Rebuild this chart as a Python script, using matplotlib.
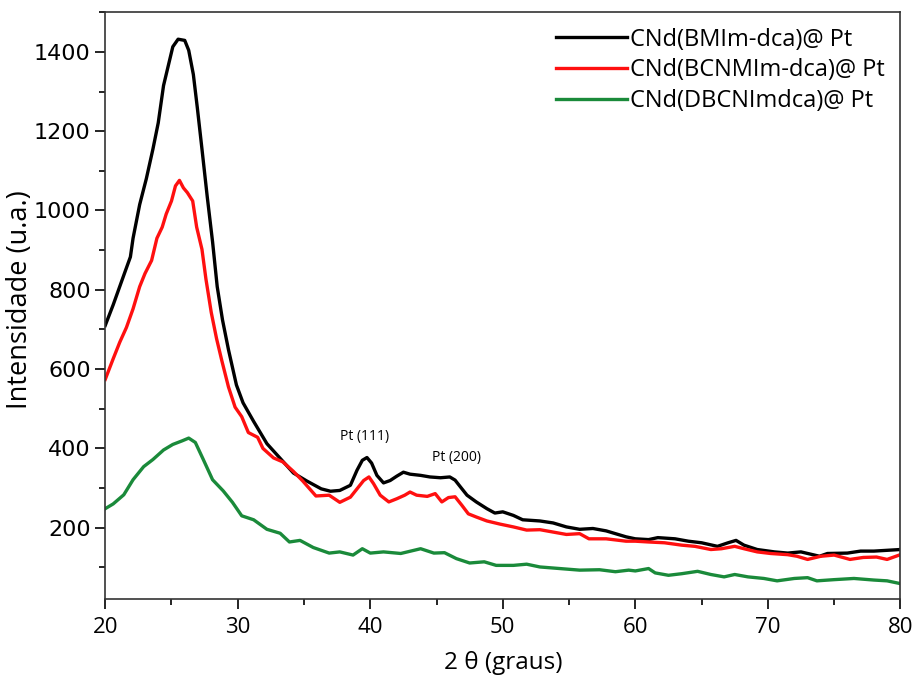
import matplotlib.pyplot as plt
from matplotlib.ticker import MultipleLocator

plt.rcParams['font.family'] = ['Open Sans', 'DejaVu Sans']

# 2theta / intensity
x_bmim = [20.0, 20.6, 21.5, 21.9, 22.1, 22.6, 23.1, 23.6, 24.0, 24.4, 24.8, 25.1,
          25.5, 26.0, 26.3, 26.65, 26.95, 27.3, 27.7, 28.1, 28.45, 28.85, 29.3, 29.9,
          30.4, 31.2, 32.2, 33.2, 34.2, 35.2, 36.3, 37.0, 37.7, 38.5, 39.0, 39.4,
          39.75, 40.1, 40.5, 41.0, 41.5, 42.0, 42.5, 43.0, 43.8, 44.5, 45.3, 46.0,
          46.4, 46.8, 47.3, 48.0, 48.8, 49.4, 50.0, 50.8, 51.5, 52.8, 53.8, 54.8,
          55.8, 56.8, 57.8, 58.5, 59.3, 60.0, 61.0, 61.7, 63.0, 64.0, 65.0, 66.2,
          67.0, 67.6, 68.2, 69.2, 70.5, 71.5, 72.5, 73.9, 74.5, 76.0, 77.0, 78.0,
          79.0, 80.0]
y_bmim = [710, 762, 846, 883, 930, 1015, 1080, 1155, 1221, 1315, 1371, 1413,
          1432, 1429, 1404, 1343, 1259, 1155, 1034, 921, 808, 724, 649, 560,
          515, 468, 412, 375, 338, 318, 298, 292, 294, 307, 345, 370,
          377, 363, 332, 313, 319, 330, 340, 335, 332, 328, 326, 328,
          320, 303, 282, 265, 248, 237, 240, 231, 220, 217, 212, 202,
          196, 198, 192, 185, 177, 172, 170, 175, 172, 166, 162, 153,
          162, 168, 156, 145, 139, 136, 139, 128, 135, 136, 141, 141,
          143, 145]

x_bcnmim = [20.0, 20.6, 21.1, 21.6, 22.1, 22.6, 23.0, 23.5, 23.9, 24.3, 24.6, 25.0,
            25.3, 25.6, 25.9, 26.2, 26.6, 26.9, 27.3, 27.6, 28.0, 28.4, 28.8, 29.3,
            29.8, 30.3, 30.8, 31.5, 31.9, 32.7, 33.4, 34.2, 34.9, 35.9, 36.9, 37.7,
            38.5, 39.0, 39.5, 39.9, 40.25, 40.75, 41.4, 42.0, 42.6, 43.0, 43.5, 44.3,
            44.9, 45.4, 45.9, 46.4, 46.9, 47.4, 48.0, 48.8, 49.8, 50.8, 51.8, 52.8,
            53.8, 54.8, 55.8, 56.5, 57.8, 59.3, 60.0, 61.0, 62.2, 63.5, 64.5, 65.7,
            66.5, 67.5, 68.2, 69.2, 70.2, 71.5, 72.2, 73.0, 74.0, 75.0, 76.2, 77.2,
            78.2, 79.0, 80.0]
y_bcnmim = [574, 626, 668, 705, 752, 808, 841, 874, 930, 958, 991, 1024,
            1062, 1076, 1057, 1045, 1024, 958, 902, 827, 743, 677, 621, 555,
            504, 480, 440, 428, 400, 376, 366, 342, 318, 280, 282, 264,
            277, 298, 319, 328, 311, 282, 265, 273, 282, 290, 282, 279,
            286, 265, 276, 278, 257, 235, 227, 217, 209, 202, 194, 195,
            189, 183, 185, 172, 172, 166, 166, 164, 162, 156, 153, 145,
            147, 153, 147, 139, 135, 132, 128, 120, 128, 131, 120, 125,
            126, 120, 132]

x_dbcnim = [20.0, 20.6, 21.4, 22.1, 22.9, 23.6, 24.4, 25.1, 25.8, 26.3, 26.8, 27.4,
            28.1, 28.9, 29.6, 30.3, 31.2, 32.2, 33.2, 33.9, 34.7, 35.7, 36.9, 37.7,
            38.7, 39.4, 40.0, 41.0, 42.3, 43.8, 44.8, 45.6, 46.5, 47.5, 48.6, 49.5,
            50.8, 51.8, 52.8, 54.3, 55.8, 57.3, 58.5, 59.5, 60.0, 61.0, 61.5, 62.5,
            63.5, 64.7, 65.7, 66.7, 67.5, 68.5, 69.7, 70.7, 72.0, 73.0, 73.7, 75.0,
            76.5, 78.0, 79.0, 80.0]
y_dbcnim = [248, 260, 283, 321, 354, 372, 396, 410, 419, 426, 415, 372,
            321, 293, 264, 230, 220, 196, 186, 164, 168, 150, 136, 139,
            131, 147, 136, 139, 135, 147, 136, 137, 122, 111, 114, 105,
            105, 108, 101, 97, 93, 94, 89, 93, 91, 97, 86, 80,
            84, 90, 82, 76, 82, 76, 72, 66, 72, 74, 66, 69,
            72, 68, 66, 59]

labels = ['CNd(BMIm-dca)@ Pt', 'CNd(BCNMIm-dca)@ Pt', 'CNd(DBCNImdca)@ Pt']
colors = ['black', '#ff1010', '#1a8a3a']

fig = plt.figure(figsize=(9.15, 6.8), dpi=100)
ax = fig.add_axes([0.115, 0.119, 0.869, 0.863])

ax.plot(x_bmim, y_bmim, color=colors[0], lw=2.4, label=labels[0])
ax.plot(x_bcnmim, y_bcnmim, color=colors[1], lw=2.4, label=labels[1])
ax.plot(x_dbcnim, y_dbcnim, color=colors[2], lw=2.4, label=labels[2])

ax.text(39.6, 430, 'Pt (111)', fontsize=10, ha='center', va='center')
ax.text(46.5, 377, 'Pt (200)', fontsize=10, ha='center', va='center')

ax.set_xlim(20, 80)
ax.set_ylim(20, 1500)
ax.xaxis.set_major_locator(MultipleLocator(10))
ax.xaxis.set_minor_locator(MultipleLocator(5))
ax.yaxis.set_minor_locator(MultipleLocator(100))
ax.set_yticks([200, 400, 600, 800, 1000, 1200, 1400])
ax.tick_params(which='major', direction='out', length=7, width=1.2)
ax.tick_params(which='minor', direction='out', length=4, width=1.2)
ax.tick_params(axis='x', labelsize=16, pad=6)
ax.tick_params(axis='y', labelsize=16)
for lab in ax.get_yticklabels():
    lab.set_fontfamily('DejaVu Sans')
for s in ax.spines.values():
    s.set_linewidth(1.2)
    s.set_color('#333333')

ax.set_xlabel('2 θ (graus)', fontsize=17.5, labelpad=9)
ax.set_ylabel('Intensidade (u.a.)', fontsize=19.5)
ax.yaxis.set_label_coords(-0.089, 0.51)

ax.legend(loc='upper right', bbox_to_anchor=(1.0, 1.0), frameon=False, fontsize=17,
          handlelength=3.0, handletextpad=0.15, labelspacing=0.28,
          borderaxespad=0.2, borderpad=0.45)

fig.savefig('out.png', dpi=100)
